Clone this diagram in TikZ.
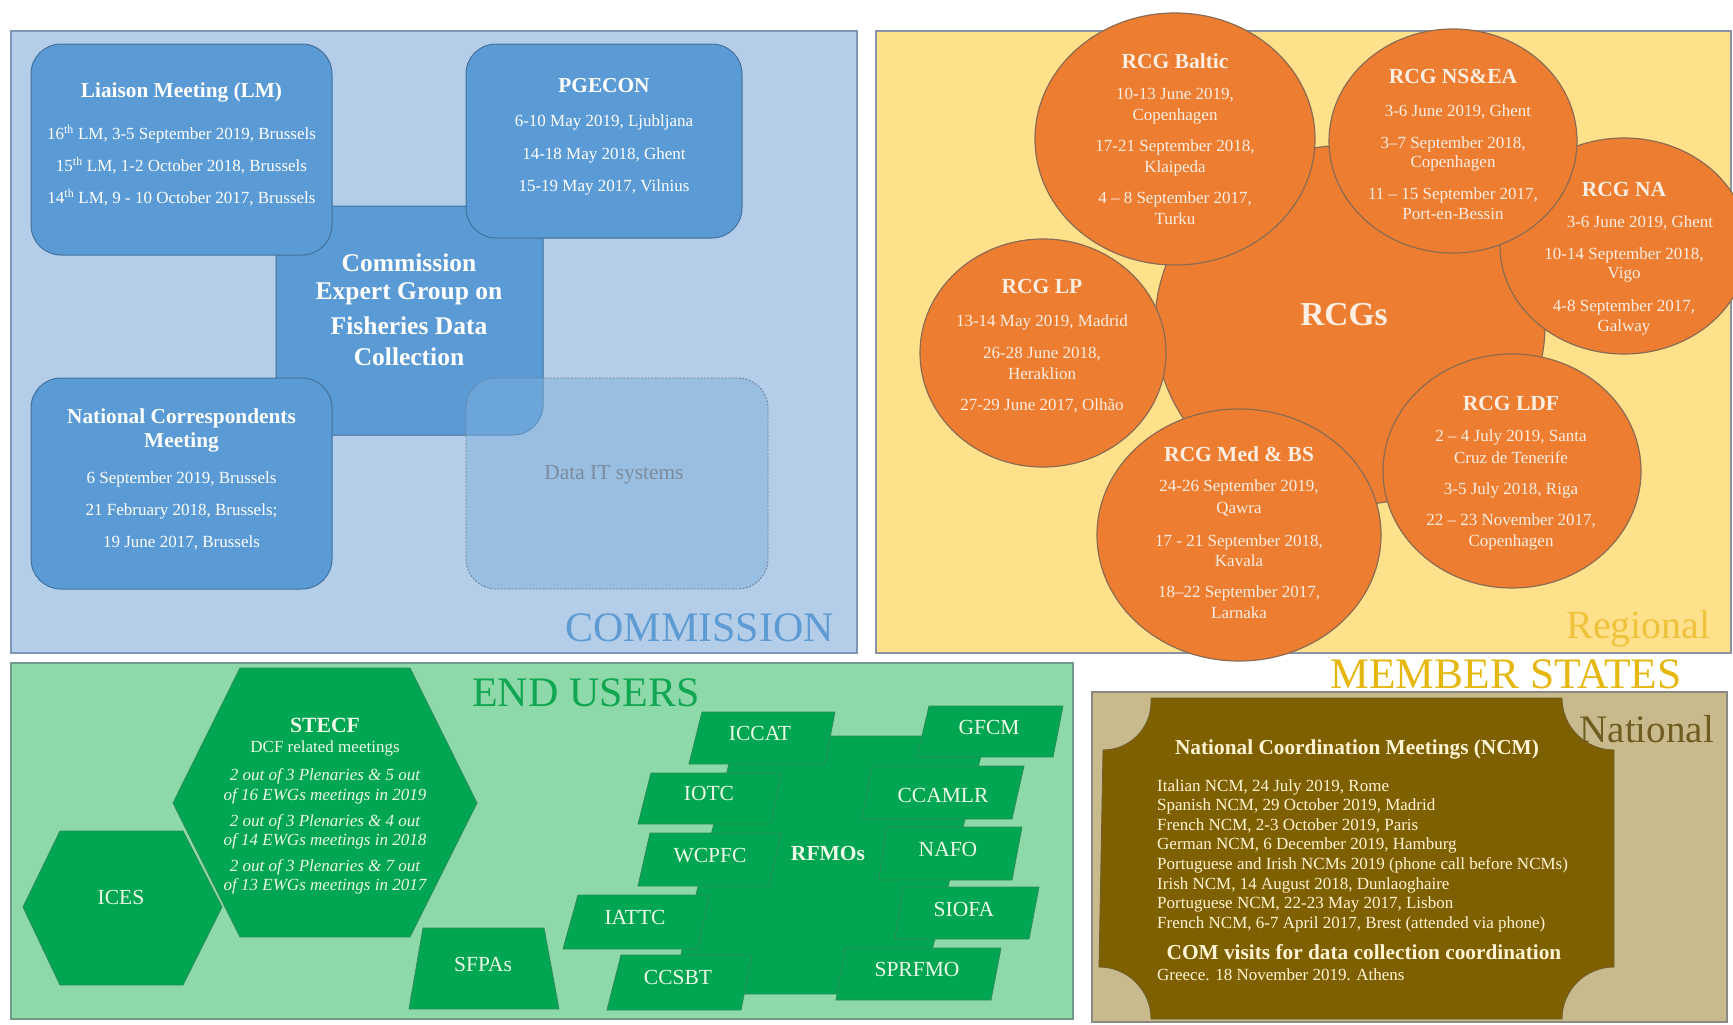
\documentclass[tikz,border=0pt]{standalone}
\usepackage{fontspec}
\setmainfont{Liberation Serif}
\usetikzlibrary{shapes.geometric}
\definecolor{cpan}{HTML}{B4CEE9}
\definecolor{cpanbd}{HTML}{7D97B6}
\definecolor{cbox}{HTML}{5B9BD5}
\definecolor{cboxbd}{HTML}{41719C}
\definecolor{cdata}{HTML}{7EB0DD}
\definecolor{cdatabd}{HTML}{6B7F95}
\definecolor{cdatatx}{HTML}{7D8B9C}
\definecolor{comtx}{HTML}{5F9BD3}
\definecolor{rpan}{HTML}{FFE18C}
\definecolor{rpanbd}{HTML}{8A93A5}
\definecolor{rcirc}{HTML}{ED7D31}
\definecolor{rcircbd}{HTML}{8B6B52}
\definecolor{rtx}{HTML}{FDEEE2}
\definecolor{regtx}{HTML}{EFC23C}
\definecolor{mstx}{HTML}{E6B80F}
\definecolor{gpan}{HTML}{8ED9A9}
\definecolor{gpanbd}{HTML}{6F9A86}
\definecolor{gshape}{HTML}{00A651}
\definecolor{gshapebd}{HTML}{2C8C58}
\definecolor{gtx}{HTML}{EEF8E8}
\definecolor{eutx}{HTML}{10A652}
\definecolor{npan}{HTML}{C8BA8C}
\definecolor{npanbd}{HTML}{8A8A80}
\definecolor{plaq}{HTML}{7F6000}
\definecolor{plaqbd}{HTML}{6E5E30}
\definecolor{ptx}{HTML}{FFF4D6}
\definecolor{nattx}{HTML}{6F5C20}
\newcommand\fsz[1]{\fontsize{#1bp}{#1bp}\selectfont}
\begin{document}
\begin{tikzpicture}[x=1bp,y=-1bp,
  bx/.style={fill=cbox, draw=cboxbd, line width=1bp, rounded corners=30bp},
  dbx/.style={fill=cdata, fill opacity=0.5, draw=cdatabd, draw opacity=1, line width=0.8bp, dash pattern=on 2bp off 1.5bp, rounded corners=30bp},
  ctit/.style={inner sep=0pt, text=white, font=\fsz{21.3}\bfseries},
  cbig/.style={inner sep=0pt, text=white, font=\fsz{25.5}\bfseries},
  cbody/.style={inner sep=0pt, text=white, font=\fsz{17}},
  circ/.style={ellipse, inner sep=0pt, fill=rcirc, draw=rcircbd, line width=1.2bp},
  rtit/.style={inner sep=0pt, text=rtx, font=\fsz{21.5}\bfseries},
  rbody/.style={inner sep=0pt, text=rtx, font=\fsz{17}},
  gs/.style={fill=gshape, draw=gshapebd, line width=0.8bp},
  glab/.style={inner sep=0pt, text=gtx, font=\fsz{21.5}},
  gital/.style={inner sep=0pt, text=gtx, font=\fsz{17}\itshape},
  ptit/.style={inner sep=0pt, text=ptx, font=\fsz{21.3}\bfseries},
  pbody/.style={inner sep=0pt, text=ptx, font=\fsz{17}, anchor=west},
  big/.style={inner sep=0pt, font=\fsz{42}}
]
\useasboundingbox (0,0) rectangle (1733,1024);
\fill[white] (0,0) rectangle (1733,1024);

% ================= COMMISSION =================
\draw[fill=cpan, draw=cpanbd, line width=1.2bp] (11,31) rectangle (857,653);
\draw[bx] (276,206) rectangle (543,435);
\draw[bx] (31,44) rectangle (332,255);
\draw[bx] (466,44) rectangle (742,238);
\draw[bx] (31,378) rectangle (332,589);
\draw[dbx] (466,378) rectangle (768,589);

\node[ctit] (lm-t) at (181.5,92) {Liaison Meeting (LM)};
\node[cbody] (lm-1) at (181.5,134) {16\textsuperscript{th} LM, 3-5 September 2019, Brussels};
\node[cbody] (lm-2) at (181.5,166) {15\textsuperscript{th} LM, 1-2 October 2018, Brussels};
\node[cbody] (lm-3) at (181.5,198) {14\textsuperscript{th} LM, 9 - 10 October 2017, Brussels};

\node[ctit] (pg-t) at (604,86) {PGECON};
\node[cbody] (pg-1) at (604,122) {6-10 May 2019, Ljubljana};
\node[cbody] (pg-2) at (604,155) {14-18 May 2018, Ghent};
\node[cbody] (pg-3) at (604,187) {15-19 May 2017, Vilnius};

\node[cbig] (eg-1) at (409,263) {Commission};
\node[cbig] (eg-2) at (409,294) {Expert Group on};
\node[cbig] (eg-3) at (409,326) {Fisheries Data};
\node[cbig] (eg-4) at (409,357) {Collection};

\node[ctit] (nc-t1) at (181.5,418) {National Correspondents};
\node[ctit] (nc-t2) at (181.5,442) {Meeting};
\node[cbody] (nc-1) at (181.5,479) {6 September 2019, Brussels};
\node[cbody] (nc-2) at (181.5,511) {21 February 2018, Brussels;};
\node[cbody] (nc-3) at (181.5,543) {19 June 2017, Brussels};

\node[inner sep=0pt, text=cdatatx, font=\fsz{21.4}] (dit) at (614,475) {Data IT systems};
\node[big, text=comtx, anchor=base east] (comlbl) at (834,641) {COMMISSION};

% ================= REGIONAL =================
\draw[fill=rpan, draw=rpanbd, line width=1.2bp] (876,31) rectangle (1731,653);
\node[circ, minimum width=390bp, minimum height=360bp] (rcgs) at (1350,325) {};
\node[circ, minimum width=248bp, minimum height=216bp] (na) at (1624,246) {};
\node[circ, minimum width=280bp, minimum height=252bp] (baltic) at (1175,139) {};
\node[circ, minimum width=248bp, minimum height=224bp] (nsea) at (1453,141) {};
\node[circ, minimum width=246bp, minimum height=228bp] (lp) at (1043,353) {};
\node[circ, minimum width=258bp, minimum height=234bp] (ldf) at (1512,471) {};
\node[circ, minimum width=284bp, minimum height=252bp] (med) at (1239,535) {};

\node[inner sep=0pt, text=rtx, font=\fsz{33.5}\bfseries] (rcgs-t) at (1344,315) {RCGs};

\node[rtit] (ba-t) at (1175,61) {RCG Baltic};
\node[rbody] (ba-1) at (1175,95) {10-13 June 2019,};
\node[rbody] (ba-2) at (1175,116) {Copenhagen};
\node[rbody] (ba-3) at (1175,147) {17-21 September 2018,};
\node[rbody] (ba-4) at (1175,168) {Klaipeda};
\node[rbody] (ba-5) at (1175,199) {4 – 8 September 2017,};
\node[rbody] (ba-6) at (1175,219) {Turku};

\node[rtit] (ns-t) at (1453,76) {RCG NS\&EA};
\node[rbody] (ns-1) at (1458,112) {3-6 June 2019, Ghent};
\node[rbody] (ns-2) at (1453,144) {3–7 September 2018,};
\node[rbody] (ns-3) at (1453,163) {Copenhagen};
\node[rbody] (ns-4) at (1453,195) {11 – 15 September 2017,};
\node[rbody] (ns-5) at (1453,214) {Port-en-Bessin};

\node[rtit] (na-t) at (1624,189) {RCG NA};
\node[rbody] (na-1) at (1640,223) {3-6 June 2019, Ghent};
\node[rbody] (na-2) at (1624,255) {10-14 September 2018,};
\node[rbody] (na-3) at (1624,275) {Vigo};
\node[rbody] (na-4) at (1624,307) {4-8 September 2017,};
\node[rbody] (na-5) at (1624,327) {Galway};

\node[rtit] (lp-t) at (1042,286) {RCG LP};
\node[rbody] (lp-1) at (1042,322) {13-14 May 2019, Madrid};
\node[rbody] (lp-2) at (1042,354) {26-28 June 2018,};
\node[rbody] (lp-3) at (1042,374) {Heraklion};
\node[rbody] (lp-4) at (1042,406) {27-29 June 2017, Olhão};

\node[rtit] (md-t) at (1239,454) {RCG Med \& BS};
\node[rbody] (md-1) at (1239,487) {24-26 September 2019,};
\node[rbody] (md-2) at (1239,509) {Qawra};
\node[rbody] (md-3) at (1239,542) {17 - 21 September 2018,};
\node[rbody] (md-4) at (1239,561) {Kavala};
\node[rbody] (md-5) at (1239,593) {18–22 September 2017,};
\node[rbody] (md-6) at (1239,613) {Larnaka};

\node[rtit] (ld-t) at (1511,403) {RCG LDF};
\node[rbody] (ld-1) at (1511,437) {2 – 4 July 2019, Santa};
\node[rbody] (ld-2) at (1511,458) {Cruz de Tenerife};
\node[rbody] (ld-3) at (1511,490) {3-5 July 2018, Riga};
\node[rbody] (ld-4) at (1511,521) {22 – 23 November 2017,};
\node[rbody] (ld-5) at (1511,542) {Copenhagen};

\node[inner sep=0pt, font=\fsz{40}, text=regtx, anchor=base east] (reglbl) at (1711,638) {Regional};
\node[inner sep=0pt, font=\fsz{43.5}, text=mstx, anchor=base] (mslbl) at (1506,688) {MEMBER STATES};

% ================= END USERS =================
\draw[fill=gpan, draw=gpanbd, line width=1.2bp] (11,663) rectangle (1073,1019);
\node[big, text=eutx, anchor=base] (eulbl) at (586,706) {END USERS};

% STECF hexagon
\draw[gs] (240,668) -- (410,668) -- (477,803) -- (410,937) -- (240,937) -- (173,803) -- cycle;
\node[inner sep=0pt, text=gtx, font=\fsz{21.7}\bfseries] (st-t) at (325,725) {STECF};
\node[inner sep=0pt, text=gtx, font=\fsz{17}] (st-s) at (325,748) {DCF related meetings};
\node[gital] (st-1) at (325,776) {2 out of 3 Plenaries \& 5 out};
\node[gital] (st-2) at (325,796) {of 16 EWGs meetings in 2019};
\node[gital] (st-3) at (325,822) {2 out of 3 Plenaries \& 4 out};
\node[gital] (st-4) at (325,841) {of 14 EWGs meetings in 2018};
\node[gital] (st-5) at (325,867) {2 out of 3 Plenaries \& 7 out};
\node[gital] (st-6) at (325,886) {of 13 EWGs meetings in 2017};

% ICES hexagon
\draw[gs] (60,831) -- (183,831) -- (222,907) -- (183,985) -- (60,985) -- (23,907) -- cycle;
\node[glab] (ices) at (121,897) {ICES};

% SFPAs trapezium
\draw[gs] (423,928) -- (544,928) -- (559,1009) -- (409,1009) -- cycle;
\node[glab] (sfpa) at (483,964) {SFPAs};

% RFMOs cluster
\draw[gs] (736,736) -- (986,736) -- (921,994) -- (671,994) -- cycle;
\draw[gs] (702,712) -- (835,712) -- (825,764) -- (689,764) -- cycle;
\draw[gs] (929,706) -- (1063,706) -- (1053,757) -- (917,757) -- cycle;
\draw[gs] (651,773) -- (781,773) -- (771,824) -- (638,824) -- cycle;
\draw[gs] (872,766) -- (1024,766) -- (1012,819) -- (862,819) -- cycle;
\draw[gs] (650,833) -- (781,833) -- (769,886) -- (638,886) -- cycle;
\draw[gs] (886,827) -- (1022,827) -- (1012,880) -- (879,880) -- cycle;
\draw[gs] (578,895) -- (709,895) -- (698,949) -- (563,949) -- cycle;
\draw[gs] (903,887) -- (1039,887) -- (1029,939) -- (895,939) -- cycle;
\draw[gs] (621,955) -- (752,955) -- (741,1010) -- (607,1010) -- cycle;
\draw[gs] (845,948) -- (1001,948) -- (991,1000) -- (836,1000) -- cycle;

\node[inner sep=0pt, text=gtx, font=\fsz{21.5}\bfseries] (rfmo) at (828,853) {RFMOs};
\node[glab] (iccat) at (760,733) {ICCAT};
\node[glab] (gfcm) at (989,727) {GFCM};
\node[glab] (iotc) at (709,793) {IOTC};
\node[glab] (ccamlr) at (943,795) {CCAMLR};
\node[glab] (wcpfc) at (710,856) {WCPFC};
\node[glab] (nafo) at (948,849) {NAFO};
\node[glab] (iattc) at (635,917) {IATTC};
\node[glab] (siofa) at (964,909) {SIOFA};
\node[glab] (ccsbt) at (678,977) {CCSBT};
\node[glab] (sprfmo) at (917,969) {SPRFMO};

% ================= NATIONAL =================
\draw[fill=npan, draw=npanbd, line width=1.2bp] (1092,692) rectangle (1727,1022);
\draw[fill=plaq, draw=plaqbd, line width=0.8bp]
  (1151,698) -- (1562,698) arc[start angle=180, end angle=90, radius=52]
  -- (1614,967) arc[start angle=270, end angle=180, radius=52]
  -- (1151,1019) arc[start angle=0, end angle=-90, radius=52]
  -- (1103,750) arc[start angle=90, end angle=0, radius=48] -- cycle;
\node[inner sep=0pt, font=\fsz{39}, text=nattx, anchor=base east] (natlbl) at (1714,742) {National};

\node[ptit] (ncm-t) at (1357,749) {National Coordination Meetings (NCM)};
\node[pbody] (ncm-1) at (1157,787) {Italian NCM, 24 July 2019, Rome};
\node[pbody] (ncm-2) at (1157,806.6) {Spanish NCM, 29 October 2019, Madrid};
\node[pbody] (ncm-3) at (1157,826.2) {French NCM, 2-3 October 2019, Paris};
\node[pbody] (ncm-4) at (1157,845.8) {German NCM, 6 December 2019, Hamburg};
\node[pbody] (ncm-5) at (1157,865.4) {Portuguese and Irish NCMs 2019 (phone call before NCMs)};
\node[pbody] (ncm-6) at (1157,885) {Irish NCM, 14 August 2018, Dunlaoghaire};
\node[pbody] (ncm-7) at (1157,904.6) {Portuguese NCM, 22-23 May 2017, Lisbon};
\node[pbody] (ncm-8) at (1157,924.2) {French NCM, 6-7 April 2017, Brest (attended via phone)};
\node[ptit] (com-t) at (1364,952) {COM visits for data collection coordination};
\node[pbody] (com-1) at (1157,975) {Greece. 18 November 2019. Athens};
\end{tikzpicture}
\end{document}
